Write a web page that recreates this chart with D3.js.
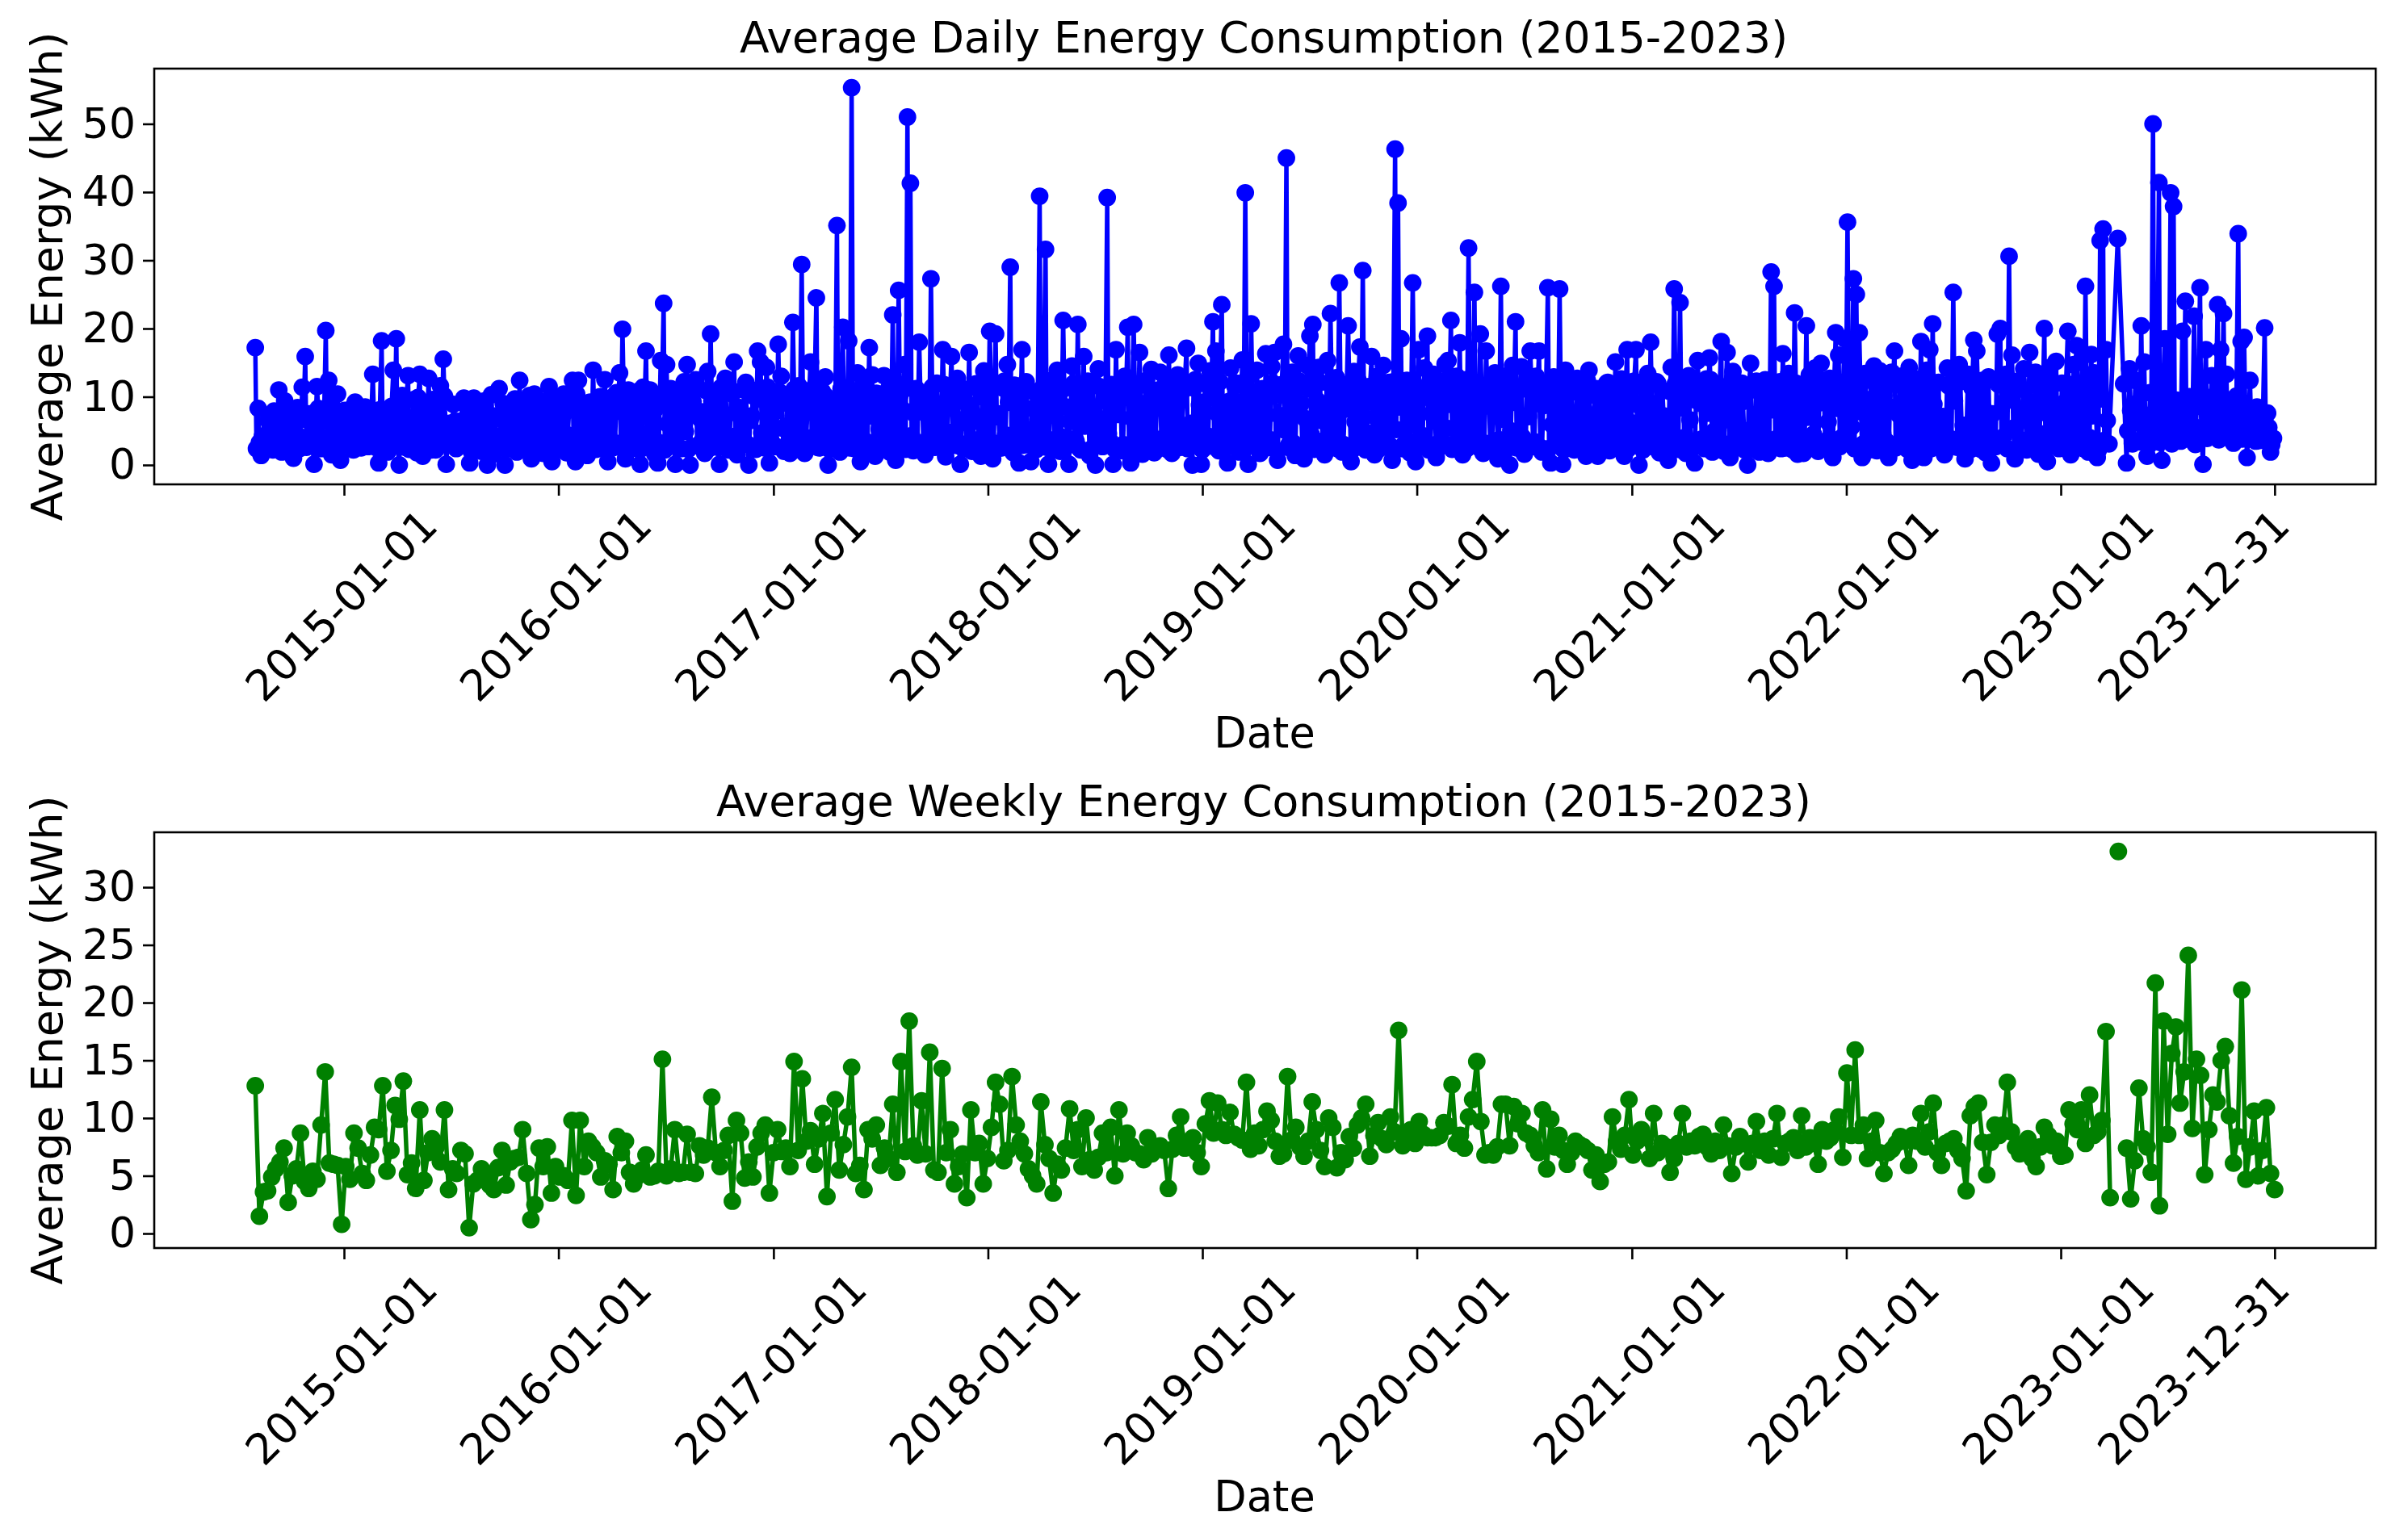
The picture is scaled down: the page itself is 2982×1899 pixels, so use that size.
<!DOCTYPE html>
<html><head><meta charset="utf-8">
<script src="https://cdn.jsdelivr.net/npm/d3@7"></script>
<style>html,body{margin:0;padding:0;background:#fff}svg{display:block}text{font-family:"DejaVu Sans";fill:#000}</style>
</head><body><svg id="c" width="2982" height="1899"></svg>
<script>
const tickLabels = ["2015-01-01","2016-01-01","2017-01-01","2018-01-01","2019-01-01","2020-01-01","2021-01-01","2022-01-01","2023-01-01","2023-12-31"];
const dailyTicks = [0,10,20,30,40,50];
const weeklyTicks = [0,5,10,15,20,25,30];
const firstDate = "2014-08-03";
const dailyStepDays = 5;
const dailyBandOffsetDays = 2;
const weeklyStepDays = 7;
// visible peaks and dips of the daily series, one reading every 5 days
const dailyValues = [
17.2,8.3,1.4,2.6,3.9,5.3,2.2,7.2,11.0,1.9,
9.4,3.1,6.5,1.0,7.2,2.4,11.4,15.9,3.3,7.0,
0.1,11.5,4.2,8.0,19.7,12.4,1.5,6.3,10.4,0.7,
5.2,3.8,8.1,4.5,9.2,5.6,2.5,4.1,7.3,2.9,
13.3,3.6,0.3,18.2,7.5,1.9,4.9,13.9,18.5,0.0,
10.2,2.6,13.1,3.4,9.6,1.8,13.3,1.3,8.5,12.7,
2.2,9.1,4.0,11.6,15.5,0.1,6.1,3.5,6.4,2.7,
5.3,9.8,3.1,0.3,8.0,4.4,7.0,2.0,9.4,0.0,
6.4,1.6,7.2,11.2,3.0,0.0,8.8,2.6,5.9,1.9,
12.4,4.3,9.0,2.1,0.9,10.4,3.2,7.4,1.7,6.2,
11.5,0.5,8.3,2.8,6.9,10.4,1.8,9.5,12.4,0.5,
12.4,3.5,7.7,1.4,9.2,13.9,2.3,8.1,4.0,12.5,
0.5,7.9,3.0,10.6,13.5,19.9,0.9,11.0,5.2,9.3,
2.4,0.1,11.4,16.7,3.8,9.7,1.6,0.3,15.3,23.7,
14.7,3.1,10.0,0.1,8.6,2.4,12.2,14.7,0.0,9.3,
12.5,3.0,7.8,1.7,13.7,19.2,4.4,9.9,0.1,7.5,
12.7,2.2,11.0,15.1,1.5,8.4,3.6,12.1,0.0,7.2,
10.9,16.7,15.1,3.3,14.3,0.3,9.8,2.7,17.7,13.0,
2.0,9.0,1.7,20.9,4.6,11.6,29.4,1.7,8.8,15.1,
3.2,24.5,2.5,10.8,12.9,0.0,7.4,3.0,35.1,1.9,
20.2,5.5,18.2,55.3,2.4,13.5,0.5,9.7,3.4,17.2,
13.2,1.3,8.5,2.8,13.1,4.7,1.9,22.0,0.7,25.6,
3.6,14.7,51.0,41.3,2.1,11.2,18.0,10.4,1.5,8.8,
27.3,2.7,12.0,3.9,16.9,1.2,9.6,15.9,4.2,12.7,
0.1,9.3,3.1,16.5,2.0,11.4,6.4,1.3,13.8,3.2,
19.6,0.9,19.2,7.5,2.5,12.3,14.7,29.0,1.8,10.2,
0.3,16.9,11.5,3.0,0.5,10.7,2.3,39.4,4.9,31.6,
0.1,12.4,3.7,13.9,2.0,21.2,8.5,0.1,14.5,3.8,
20.6,2.2,15.9,9.1,1.4,12.0,0.0,14.1,6.0,2.9,
39.2,3.5,0.1,16.9,10.0,2.1,13.0,20.2,0.3,20.6,
4.8,16.5,1.6,11.7,3.2,14.0,1.8,10.5,13.6,3.0,
12.3,16.1,1.7,8.9,13.2,2.6,11.0,17.1,3.3,0.0,
12.5,14.9,0.1,9.2,3.0,13.8,21.0,16.7,2.1,23.5,
7.5,0.3,14.2,3.6,12.0,1.9,15.4,39.9,0.1,20.7,
4.0,13.9,1.7,11.2,16.3,2.6,14.4,16.5,0.7,10.3,
17.7,45.0,3.1,13.6,1.4,16.0,9.0,0.9,14.6,18.9,
20.6,2.7,14.3,6.5,1.5,15.3,22.2,3.1,12.8,26.7,
1.9,9.9,20.4,0.5,13.7,3.4,17.3,28.5,2.2,11.5,
15.9,1.5,13.0,4.0,14.6,2.7,12.1,0.7,46.3,38.4,
18.5,3.0,12.4,1.8,26.7,0.5,16.9,4.2,14.2,18.9,
2.3,13.3,1.1,11.6,3.5,14.8,15.3,21.2,2.6,13.0,
17.9,1.5,12.5,31.8,4.1,25.3,2.9,19.2,1.7,16.7,
9.7,3.2,13.5,0.9,26.2,13.0,2.4,0.0,14.6,21.0,
3.1,14.4,1.6,12.8,16.7,2.7,13.0,16.7,1.9,10.8,
26.0,0.3,12.9,4.3,25.8,0.1,13.9,3.0,11.5,2.2,
12.7,5.1,11.0,1.3,13.9,2.6,10.2,1.3,9.5,3.4,
12.0,2.1,10.8,15.1,3.7,12.6,1.3,16.9,2.8,12.2,
16.9,0.0,11.4,2.6,13.4,18.0,3.1,12.2,1.8,10.9,
4.0,0.7,14.3,25.8,3.0,23.8,12.0,1.7,13.1,2.4,
0.3,15.3,9.0,3.2,12.6,15.7,1.9,11.2,3.5,18.1,
2.0,16.5,1.1,13.7,4.4,10.9,12.0,2.2,0.0,14.9,
3.0,12.3,1.9,10.8,12.5,1.7,28.3,26.2,3.9,12.2,
16.3,2.5,13.4,4.1,22.3,1.6,11.0,1.7,20.4,13.2,
3.3,14.2,2.0,14.9,10.1,3.6,12.7,1.1,19.4,16.1,
4.0,18.5,35.6,3.1,27.3,25.0,19.4,1.1,13.4,3.9,
12.5,14.5,2.1,13.8,4.6,12.2,1.1,13.6,16.7,2.8,
13.0,3.7,10.9,14.3,0.7,12.6,3.4,18.1,1.1,13.9,
16.9,20.7,4.2,12.1,2.6,1.5,14.2,3.0,25.3,12.8,
14.7,3.5,0.9,13.3,2.3,18.3,16.7,4.0,12.4,1.8,
12.9,0.3,3.6,19.2,20.0,4.1,13.3,30.6,16.1,0.9,
12.3,3.0,14.1,2.2,16.5,4.5,13.6,1.6,12.9,20.0,
0.5,14.3,3.4,15.2,2.4,12.0,4.2,19.6,1.5,14.7,
17.5,3.1,15.9,26.2,1.9,16.2,13.5,1.1,32.9,34.6,
16.9,3.1,null,null,33.2,null,11.9,0.3,14.1,3.1,
12.4,6.2,20.4,15.1,1.3,10.6,50.0,5.2,41.4,0.7,
18.5,4.9,39.9,37.9,9.5,4.9,19.6,24.0,5.8,3.7,
21.8,10.1,26.0,0.1,16.9,4.2,13.1,5.0,23.5,16.9,
22.2,13.3,3.9,9.6,5.2,33.9,18.1,18.7,1.1,12.4,
6.1,3.5,7.7,4.8,20.1,7.6,1.9,3.9
];
// estimated readings inside the solid band, between the readings above
const dailyBandValues = [
2.4,3.3,4.2,3.0,6.5,4.8,7.9,3.2,6.0,2.5,
8.2,3.6,5.9,2.3,8.4,4.1,6.7,2.6,7.5,3.1,
5.2,8.3,2.4,6.6,3.9,8.8,2.1,7.4,4.6,2.9,
8.0,3.4,6.2,2.2,7.8,4.9,3.0,8.5,2.7,5.7,
6.9,2.5,8.1,3.7,5.4,2.2,8.6,4.4,2.8,7.2,
3.1,9.4,2.3,6.8,4.5,9.9,2.6,8.2,3.8,6.1,
9.6,2.2,7.5,4.0,10.1,2.9,5.8,8.9,2.4,6.4,
9.2,3.3,7.0,2.1,9.8,4.7,2.7,8.5,5.3,3.0,
10.3,2.5,6.9,4.2,9.0,2.3,7.7,3.5,9.7,2.8,
5.5,8.8,2.2,10.2,3.9,6.3,2.6,9.3,4.8,2.4,
7.2,10.0,3.1,6.6,2.3,9.5,4.4,8.1,2.7,10.4,
2.9,7.4,5.0,9.1,2.2,6.7,3.6,10.0,2.5,8.4,
4.3,9.9,2.6,7.9,3.2,10.5,2.1,6.2,8.7,3.4,
10.8,2.4,7.1,4.6,11.0,2.7,8.3,3.3,10.2,2.2,
6.0,11.2,3.0,9.0,2.5,10.6,4.9,2.3,8.6,11.1,
2.8,6.8,3.7,10.9,2.4,9.4,5.1,2.6,11.3,3.5,
7.3,2.2,10.4,4.2,8.0,2.9,11.0,3.1,6.5,10.1,
2.3,9.7,4.7,2.5,11.4,3.8,7.6,2.7,10.7,5.4,
2.4,9.2,3.2,11.1,2.8,6.3,10.3,2.2,8.8,4.0,
11.5,2.6,7.8,3.6,10.0,2.3,9.5,5.6,2.9,11.2,
3.4,6.9,2.5,10.8,4.5,8.5,2.2,11.6,3.0,7.2,
2.7,10.5,5.2,9.3,2.4,11.0,3.9,6.6,2.6,10.2,
8.1,2.3,11.3,4.3,7.5,2.8,10.6,3.3,9.0,2.5,
11.4,2.6,7.9,3.4,11.8,2.3,9.6,4.8,12.0,2.8,
6.2,11.1,2.4,8.7,3.7,11.9,2.2,10.0,5.5,2.7,
12.1,3.2,7.1,2.5,11.3,4.4,9.2,2.3,11.7,3.6,
6.7,2.9,12.2,5.0,8.3,2.4,10.8,3.1,11.6,2.6,
7.7,12.0,2.2,9.9,4.1,11.2,2.8,6.4,11.9,3.5,
2.5,10.4,5.7,12.3,2.3,8.0,3.9,11.5,2.7,9.4,
4.6,11.8,2.4,7.4,12.1,3.0,10.1,2.2,6.9,11.4,
3.3,9.0,2.6,12.4,4.9,8.4,2.5,11.0,3.8,10.6,
2.3,7.2,11.7,2.9,9.7,5.3,12.0,2.4,6.1,11.3,
3.6,8.8,2.2,11.9,4.2,10.3,2.7,7.6,12.2,3.1,
2.5,9.3,5.8,11.6,2.3,8.1,3.4,12.5,2.8,10.7,
4.0,6.6,11.1,2.4,9.8,3.7,12.0,2.2,7.3,11.8,
5.1,2.6,10.2,3.2,8.6,12.3,2.5,6.8,11.2,4.5,
2.3,9.5,12.1,3.5,7.8,2.7,11.5,5.6,2.4,10.5,
3.0,8.2,11.9,2.2,6.3,12.4,3.9,9.1,2.6,11.0,
4.7,7.0,2.3,11.7,3.3,10.0,2.8,12.2,5.2,8.5,
2.4,11.4,3.6,6.5,12.0,2.5,9.6,4.3,11.1,2.2,
7.5,10.9,3.1,2.7,12.3,5.4,8.9,2.3,11.6,3.8,
6.0,9.9,2.4,12.1,4.6,7.7,2.6,11.3,3.2,10.4,
2.2,8.3,12.5,3.7,6.7,2.8,11.8,5.0,9.2,2.5,
11.0,4.1,2.3,7.1,12.2,3.4,10.1,2.6,8.7,11.5,
2.4,5.9,11.9,3.0,9.4,2.2,12.0,4.8,7.4,2.7,
10.6,3.5,8.0,12.4,2.5,6.4,11.2,3.9,2.3,9.7,
12.1,5.5,2.8,7.9,11.7,3.1,10.3,2.4,6.2,12.3,
4.4,8.6,2.2,11.4,3.6,9.0,2.6,12.0,5.7,7.2,
2.5,10.8,3.3,11.9,2.3,8.4,4.0,12.2,6.6,2.7,
9.5,11.1,3.8,2.4,7.6,12.5,4.9,2.2,10.0,3.2,
8.8,11.6,2.6,6.1,12.1,3.5,9.3,2.5,11.3,5.3,
2.3,7.3,10.5,4.2,12.3,2.8,8.1,3.0,11.8,2.4,
6.9,9.8,5.1,2.2,12.0,3.7,10.2,2.6,7.0,11.5,
4.5,2.5,9.1,12.4,3.3,6.3,2.3,11.0,8.3,2.7,
10.7,3.9,12.2,5.6,2.4,7.8,11.7,3.1,9.6,2.2,
6.5,12.1,4.7,2.6,10.1,3.4,8.5,11.9,2.5,7.4,
3.6,11.2,2.3,9.9,5.0,12.3,2.8,6.8,10.4,3.0,
2.4,8.9,12.0,4.3,7.1,2.2,11.6,3.8,9.4,2.6,
12.2,5.8,2.5,6.0,11.3,3.2,10.9,2.3,8.2,12.4,
4.1,7.5,2.7,11.8,3.5,9.2,2.4,10.6,5.4,12.1,
2.2,6.6,11.0,3.7,8.7,2.6,12.3,4.6,7.7,2.3,
10.3,3.1,11.9,5.2,2.5,9.0,12.0,3.4,6.4,2.8,
11.4,8.0,2.4,10.8,4.0,7.2,12.2,2.2,9.7,3.6,
6.5,null,null,null,null,null,null,5.0,8.0,3.6,
9.0,3.4,7.5,5.5,2.8,6.9,4.2,10.2,3.3,7.8,
4.6,9.5,3.1,6.2,8.4,3.5,7.1,4.0,10.0,5.8,
3.0,8.6,5.2,9.8,3.9,7.4,4.8,10.4,3.7,6.3,
9.1,4.5,7.9,3.2,10.1,5.6,3.8,8.2,4.3,6.0,
5.0,8.5,3.6,6.7,4.2,5.5,3.0
];
const weeklyValues = [
12.8,1.5,3.6,3.7,4.9,5.6,6.2,7.4,2.7,5.0,
5.6,8.7,4.5,3.9,5.4,4.7,9.4,14.0,6.1,6.0,
5.9,0.8,5.8,4.7,8.7,7.4,5.2,4.6,6.8,9.2,
9.0,12.8,5.4,7.2,11.1,9.9,13.2,5.1,6.1,3.9,
10.7,4.6,7.0,8.2,7.5,6.2,10.7,3.8,5.6,5.2,
7.2,6.9,0.5,4.3,4.6,5.6,5.0,4.2,3.8,5.7,
7.2,4.2,6.2,6.5,6.6,9.0,5.2,1.2,2.5,7.4,
5.8,7.5,3.5,5.8,4.9,5.0,4.6,9.8,3.3,9.8,
5.8,8.0,7.5,7.0,4.9,6.3,6.0,3.8,8.4,7.0,
8.0,5.3,4.3,5.0,5.5,6.8,4.9,5.0,5.4,15.1,
5.0,5.6,9.0,5.2,5.3,8.6,5.3,5.2,7.6,6.8,
7.4,11.8,7.0,5.8,7.2,8.5,2.8,9.8,8.7,4.8,
6.2,4.9,7.5,8.7,9.4,3.5,7.0,9.0,7.1,7.4,
5.8,14.9,7.2,13.4,8.0,8.9,6.0,8.2,10.4,3.2,
8.7,11.6,5.5,7.7,10.1,14.4,5.2,5.9,3.8,9.0,
8.2,9.4,5.9,7.4,6.5,11.2,5.3,14.9,7.1,18.4,
7.6,6.8,11.5,6.9,15.7,5.5,5.3,14.3,7.0,9.0,
4.3,5.8,6.9,3.1,10.7,7.0,7.8,4.3,6.5,9.2,
13.1,11.2,6.3,7.2,13.6,9.4,8.0,6.9,5.6,5.0,
4.3,11.4,7.7,6.5,3.5,6.0,5.5,7.4,10.8,7.2,
9.0,5.8,10.0,6.4,5.5,6.6,8.7,7.0,9.2,5.0,
10.7,6.9,8.7,7.6,7.0,6.9,6.4,8.3,6.9,7.5,
7.6,7.2,3.9,7.3,8.5,10.1,7.4,7.7,8.3,7.0,
5.8,9.5,11.5,8.7,11.3,9.0,8.5,10.5,8.6,8.3,
8.1,13.1,7.3,8.7,7.6,9.0,10.6,9.8,8.0,6.7,
6.9,13.6,8.1,9.2,7.5,6.7,8.0,11.4,9.0,7.2,
5.8,10.0,9.2,5.7,7.0,6.4,8.4,7.4,9.4,10.0,
11.2,6.7,8.5,9.6,8.2,7.7,10.1,8.8,17.6,7.6,
8.5,9.0,7.8,9.7,8.6,8.3,8.3,8.3,8.5,9.6,
9.3,12.9,7.8,8.5,7.4,10.1,11.6,14.9,9.7,6.8,
7.0,6.8,7.5,11.2,11.2,7.6,11.0,9.5,10.4,8.7,
8.5,7.6,7.0,10.7,5.6,9.9,7.5,8.5,7.2,6.0,
7.0,8.0,7.7,7.5,7.2,5.5,6.8,4.5,6.0,6.2,
10.1,8.0,7.3,8.5,11.6,6.8,8.0,9.0,8.3,6.5,
10.4,7.0,7.8,7.5,5.3,6.5,7.8,10.4,7.5,8.0,
7.6,8.4,8.6,7.5,6.9,8.0,7.2,9.4,7.6,5.2,
7.5,8.4,7.8,6.2,7.8,9.7,7.2,8.0,6.8,8.2,
10.4,6.6,7.8,8.0,8.3,7.2,10.2,7.5,8.3,7.8,
6.0,9.0,8.0,8.3,9.0,10.1,6.6,13.9,8.5,15.9,
8.5,9.4,6.5,8.0,9.8,7.0,5.2,7.0,7.3,7.8,
8.4,8.0,5.9,8.5,8.0,10.4,7.5,8.8,11.3,7.0,
5.9,7.8,8.0,8.2,7.2,6.5,3.7,10.2,11.0,11.3,
7.9,5.1,7.9,9.4,8.5,9.4,13.1,8.8,7.5,6.9,
7.8,8.2,6.5,5.8,7.5,9.2,8.5,7.6,8.0,6.7,
6.8,10.7,9.5,9.0,10.7,7.8,12.0,8.5,8.8,9.8,
17.5,3.1,null,33.1,null,7.4,3.0,6.3,12.6,8.2,
7.5,5.3,21.7,2.4,18.4,8.6,15.6,17.9,11.3,14.0,
24.1,9.1,15.1,13.7,5.1,9.0,12.0,11.4,15.0,16.2,
10.2,6.1,8.4,21.1,4.7,7.5,10.6,5.0,7.2,10.9,
5.2,3.8
];

const parse = d3.utcParse("%Y-%m-%d");
const fmt = d3.utcFormat("%Y-%m-%d");
const tickDates = tickLabels.map(parse);
const dayFrom = n => d3.utcDay.offset(parse(firstDate), n);
const daily = [];
dailyValues.forEach((v, i) => {
  daily.push({date: dayFrom(i * dailyStepDays), v});
  if (i < dailyBandValues.length) daily.push({date: dayFrom(i * dailyStepDays + dailyBandOffsetDays), v: dailyBandValues[i]});
});
const weekly = weeklyValues.map((v, i) => ({date: dayFrom(i * weeklyStepDays), v}));

const svg = d3.select("#c");
const xDomain = [dayFrom(-172), d3.utcDay.offset(parse("2023-12-31"), 172)];

function panel(o) {
  const x = d3.scaleUtc().domain(xDomain).range([191, 2942]);
  const y = d3.scaleLinear().domain(o.yDomain).range([o.bottom, o.top]);
  const g = svg.append("g");
  const present = o.data.filter(d => d.v !== null);
  const line = d3.line().defined(d => d.v !== null).x(d => x(d.date)).y(d => y(d.v));
  g.append("path").attr("d", line(o.skipGaps ? present : o.data)).attr("fill", "none")
    .attr("stroke", o.color).attr("stroke-width", 5.5).attr("stroke-linejoin", "round");
  g.append("g").selectAll("circle").data(present).join("circle")
    .attr("cx", d => x(d.date)).attr("cy", d => y(d.v)).attr("r", 10.9).attr("fill", o.color);
  g.append("rect").attr("x", 191).attr("y", o.top).attr("width", 2942 - 191).attr("height", o.bottom - o.top)
    .attr("fill", "none").attr("stroke", "#000").attr("stroke-width", 2.6);
  const ax = g.append("g").attr("transform", `translate(0,${o.bottom})`)
    .call(d3.axisBottom(x).tickValues(tickDates).tickFormat(fmt).tickSize(14).tickSizeOuter(0));
  ax.select(".domain").remove();
  ax.selectAll("line").attr("stroke", "#000").attr("stroke-width", 2.6);
  ax.selectAll("text").attr("font-size", 53).attr("text-anchor", "middle").attr("dy", null)
    .attr("dominant-baseline", "central").attr("fill", "#000")
    .attr("transform", (d, i) => `translate(${i === tickDates.length - 1 ? -101 : -4},150) rotate(-45)`)
    .attr("y", 0);
  const ay = g.append("g").attr("transform", "translate(191,0)")
    .call(d3.axisLeft(y).tickValues(o.ticks).tickSize(14).tickSizeOuter(0).tickPadding(9));
  ay.select(".domain").remove();
  ay.selectAll("line").attr("stroke", "#000").attr("stroke-width", 2.6);
  ay.selectAll("text").attr("font-size", 52).attr("fill", "#000");
  svg.append("text").attr("x", 1565).attr("y", o.top - 20).attr("text-anchor", "middle").attr("font-size", 53.5).text(o.title);
  svg.append("text").attr("x", 1566).attr("y", o.bottom + 326).attr("text-anchor", "middle").attr("font-size", 52.5).text("Date");
  svg.append("text").attr("transform", `translate(77,${(o.top + o.bottom) / 2}) rotate(-90)`)
    .attr("text-anchor", "middle").attr("font-size", 54).text("Average Energy (kWh)");
}
panel({title: "Average Daily Energy Consumption (2015-2023)", data: daily, color: "#0000ff", skipGaps: true,
  top: 85, bottom: 600, yDomain: [-2.84, 58.1], ticks: dailyTicks});
panel({title: "Average Weekly Energy Consumption (2015-2023)", data: weekly, color: "#008000", skipGaps: false,
  top: 1031, bottom: 1546, yDomain: [-1.26, 34.76], ticks: weeklyTicks});
</script></body></html>
